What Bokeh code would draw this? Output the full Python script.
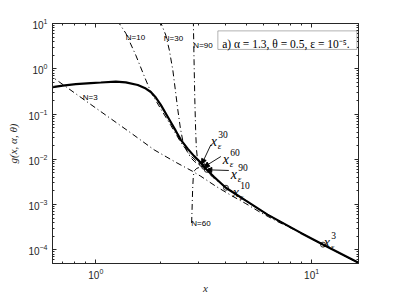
import numpy as np
from bokeh.plotting import figure
from bokeh.models import (FixedTicker, LogAxis, CustomJSTickFormatter, Arrow,
                          NormalHead, BoxAnnotation, Label, Range1d)
from bokeh.embed import file_html
from bokeh.resources import INLINE
from bokeh.core.properties import value

# ---- data ----
x_g = [0.60, 0.632, 0.703, 0.808, 0.948, 1.055, 1.238, 1.377, 1.566, 1.705, 1.799,
       1.897, 2.001, 2.157, 2.349, 2.478, 2.670, 2.848, 3.068, 3.235, 3.525, 4.007,
       4.960, 6.25, 8.92, 11.28, 16.5]
y_g = [0.388, 0.395, 0.426, 0.460, 0.484, 0.497, 0.520, 0.502, 0.437, 0.366, 0.307,
       0.232, 0.159, 0.0863, 0.0424, 0.0269, 0.0170, 0.0119, 0.00837, 0.00618, 0.00412,
       0.00236, 0.00122, 0.000600, 0.000237, 0.000131, 5.17e-5]

x_n3 = [0.60, 0.948, 1.453, 1.864, 2.349, 2.808, 3.068, 3.600, 4.226, 4.960, 5.82,
        6.96, 8.92, 11.28, 16.5]
y_n3 = [0.772, 0.1627, 0.0383, 0.0162, 0.00859, 0.00544, 0.00422, 0.00254, 0.00161,
        0.00105, 0.000663, 0.000420, 0.000237, 0.000131, 5.17e-5]

x_n10 = [1.255, 1.377, 1.532, 1.669, 1.799, 1.897, 2.001, 2.227, 2.478, 2.757, 3.068,
         3.487, 4.007, 4.960, 6.25, 8.92, 11.28, 16.5]
y_n10 = [11.8, 6.11, 2.00, 0.727, 0.307, 0.1993, 0.1295, 0.0561, 0.02367, 0.0119,
         0.00738, 0.00401, 0.00236, 0.00122, 0.000600, 0.000237, 0.000131, 5.17e-5]

x_n30 = [1.980, 2.111, 2.192, 2.275, 2.337, 2.400, 2.465, 2.531, 2.642, 2.757, 2.877,
         3.003, 3.101, 3.235, 3.525, 4.007, 4.960, 6.25, 8.92, 11.28, 16.5]
y_n30 = [11.8, 5.53, 2.58, 0.936, 0.339, 0.1231, 0.0494, 0.02556, 0.01539, 0.01079,
         0.00881, 0.00772, 0.00741, 0.00618, 0.00412, 0.00236, 0.00122, 0.000600,
         0.000237, 0.000131, 5.17e-5]

x_n90 = [2.832, 2.853, 2.877, 2.902, 2.924, 2.955, 3.035, 3.168, 3.235, 3.525, 4.007,
         4.960, 6.25, 8.92, 11.28, 16.5]
y_n90 = [11.8, 1.555, 0.2045, 0.0447, 0.01792, 0.01079, 0.00816, 0.00698, 0.00618,
         0.00412, 0.00236, 0.00122, 0.000600, 0.000237, 0.000131, 5.17e-5]

x_n60 = [2.781, 2.793, 2.810, 2.832, 2.862, 2.939, 3.035, 3.168, 3.235, 3.525, 4.007,
         4.960, 6.25, 8.92, 11.28, 16.5]
y_n60 = [0.000393, 0.000772, 0.00213, 0.00433, 0.00558, 0.00633, 0.00666, 0.00698,
         0.00618, 0.00412, 0.00236, 0.00122, 0.000600, 0.000237, 0.000131, 5.17e-5]

# x_eps points
eps_names = ["30", "60", "90", "10", "3"]
eps_x = [3.10, 3.18, 3.27, 4.01, 11.3]
# label anchors (left / baseline of the "x")
eps_lab_x = [3.413, 3.879, 4.226, 4.316, 11.40]
eps_lab_y = [0.0243, 0.00975, 0.00456, 0.001829, 0.000145]
# arrow starts (only first three)
arr_x = [3.413, 3.798, 4.135]
arr_y = [0.0209, 0.01153, 0.00567]

# curve labels
n_labels = ["N=10", "N=30", "N=90", "N=3", "N=60"]
n_lab_x = [1.377, 2.067, 2.832, 0.870, 2.771]
n_lab_y = [4.99, 4.63, 3.24, 0.232, 0.000389]

x_major = [1, 10]
x_minor = [0.7, 0.8, 0.9, 2, 3, 4, 5, 6, 7, 8, 9, 20]
y_major = [1e-4, 1e-3, 1e-2, 1e-1, 1, 10]
y_minor = [m * 10.0 ** e for e in range(-5, 1) for m in range(2, 10)]

AX = "#262626"

p = figure(width=390, height=296, x_axis_type="log", y_axis_type="log",
           x_range=Range1d(0.63, 16.5), y_range=Range1d(5e-5, 10),
           output_backend="svg", toolbar_location=None,
           min_border_left=52, min_border_right=32, min_border_top=23,
           min_border_bottom=33)
p.grid.visible = False
p.outline_line_color = AX
p.background_fill_color = "white"
p.border_fill_color = "white"


def style_axis(ax, ticks, minor):
    ax.ticker = FixedTicker(ticks=ticks, minor_ticks=minor)
    ax.axis_line_color = AX
    ax.major_tick_line_color = AX
    ax.minor_tick_line_color = AX
    ax.major_tick_in = 4
    ax.major_tick_out = 0
    ax.minor_tick_in = 2
    ax.minor_tick_out = 0
    ax.major_label_text_color = AX
    ax.major_label_text_font = "Liberation Sans"
    ax.major_label_text_font_size = "10px"


style_axis(p.xaxis[0], x_major, x_minor)
style_axis(p.yaxis[0], y_major, y_minor)
p.xaxis.axis_label = "x"
p.yaxis.axis_label = "g(x, α, θ)"
for ax in (p.xaxis[0], p.yaxis[0]):
    ax.axis_label_text_font = "Liberation Serif"
    ax.axis_label_text_font_style = "italic"
    ax.axis_label_text_font_size = "11px"
    ax.axis_label_text_color = AX
    ax.axis_label_standoff = 2
p.xaxis.major_label_standoff = 4
p.xaxis.axis_label_standoff = 0
p.yaxis.axis_label_standoff = 6

blank = CustomJSTickFormatter(code="return ''")
top_ax = LogAxis(formatter=blank)
right_ax = LogAxis(formatter=blank)
style_axis(top_ax, x_major, x_minor)
style_axis(right_ax, y_major, y_minor)
p.add_layout(top_ax, "above")
p.add_layout(right_ax, "right")

dd = "6 3 1 3"
for xs, ys in [(x_n3, y_n3), (x_n10, y_n10), (x_n30, y_n30), (x_n90, y_n90), (x_n60, y_n60)]:
    p.line(xs, ys, line_color="black", line_width=1, line_dash=dd)

p.line(x_g, y_g, line_color="black", line_width=2.2)

# markers on the curve
ly = np.interp(np.log10(eps_x), np.log10(x_g), np.log10(y_g))
eps_y = list(10 ** ly)
p.scatter(eps_x, eps_y, marker="circle", size=5, fill_color=None,
          line_color="black", line_width=0.8)

for i in range(3):
    p.add_layout(Arrow(end=NormalHead(size=5, fill_color="black", line_color="black"),
                       x_start=arr_x[i], y_start=arr_y[i],
                       x_end=eps_x[i], y_end=eps_y[i],
                       line_color="black", line_width=0.9))

p.text(eps_lab_x, eps_lab_y, text=["x"] * 5, text_font=value("Liberation Serif"),
       text_font_style="italic", text_font_size="14px", text_color="black",
       text_baseline="alphabetic", text_align="left")
p.text(eps_lab_x, eps_lab_y, text=eps_names, text_font=value("Liberation Serif"),
       text_font_size="9.5px", text_color="black", text_baseline="alphabetic",
       text_align="left", x_offset=7.5, y_offset=-7)
p.text(eps_lab_x, eps_lab_y, text=["ε"] * 5, text_font=value("Liberation Serif"),
       text_font_style="italic", text_font_size="9px", text_color="black",
       text_baseline="alphabetic", text_align="left", x_offset=7, y_offset=4)

p.text(n_lab_x, n_lab_y, text=n_labels, text_font=value("Liberation Sans"),
       text_font_size="8px", text_color="black", text_baseline="alphabetic",
       text_align="left")

p.add_layout(BoxAnnotation(left=3.679, right=16.22, top=6.87, bottom=2.675,
                           fill_color="white", fill_alpha=1, line_color="black",
                           line_width=1))
p.add_layout(Label(x=3.85, y=3.50, text="a) α = 1.3, θ = 0.5, ε = 10⁻⁵.",
                   text_font="Liberation Serif", text_font_size="11.5px",
                   text_color="black", text_baseline="alphabetic"))

open("out.html", "w").write(file_html(p, INLINE))
